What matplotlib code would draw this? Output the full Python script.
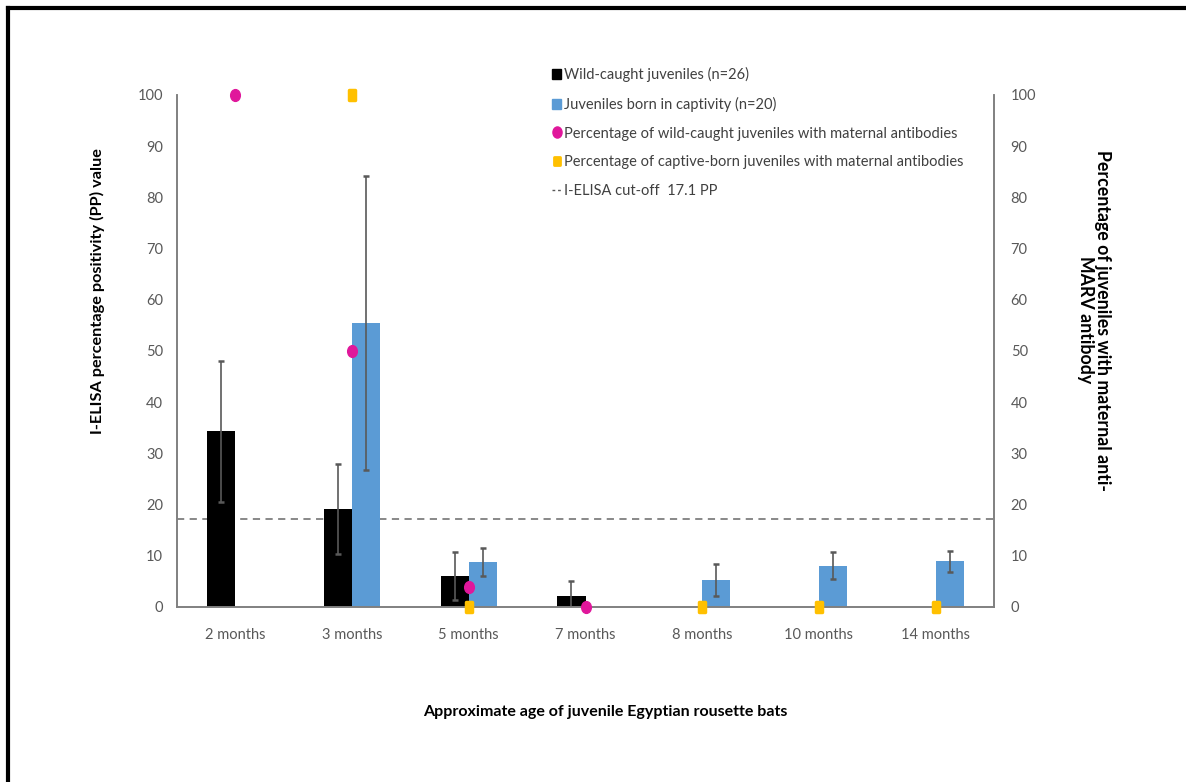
import numpy as np
import matplotlib
matplotlib.use("Agg")
from matplotlib import pyplot as plt
from matplotlib.lines import Line2D
from matplotlib.markers import MarkerStyle
from matplotlib.patches import Patch
from matplotlib.transforms import Affine2D

plt.rcParams['font.family'] = ['Lato', 'DejaVu Sans']

ages = ['2 months', '3 months', '5 months', '7 months', '8 months', '10 months', '14 months']

# mean PP values and error (+/-) per age group; None where no animals
wild_pp = [34.3, 19.1, 6.0, 2.2, None, None, None]
wild_err = [13.8, 8.8, 4.7, 2.8, None, None, None]
captive_pp = [None, 55.5, 8.8, None, 5.3, 8.1, 8.9]
captive_err = [None, 28.7, 2.65, None, 3.1, 2.7, 2.1]

# percentage of juveniles with maternal antibodies (right axis)
wild_pct = [100, 50, 4, 0, None, None, None]
captive_pct = [None, 100, 0, None, 0, 0, 0]

cutoff = 17.1

BLACK = '#000000'
BLUE = '#5B9BD5'
PINK = '#E0179B'
YELLOW = '#FFC000'
GREY = '#595959'

fig = plt.figure(figsize=(11.86, 7.82), dpi=100)
ax = fig.add_axes([177 / 1186, 1 - 607 / 782, (994 - 177) / 1186, (607 - 95) / 782])
ax2 = ax.twinx()

x = np.arange(len(ages))
w = 0.24


def pick(vals, errs):
    idx = [i for i, v in enumerate(vals) if v is not None]
    return x[idx], [vals[i] for i in idx], [errs[i] for i in idx]


wx, wv, we = pick(wild_pp, wild_err)
cx, cv, ce = pick(captive_pp, captive_err)
ax.bar(wx - w / 2, wv, w, color=BLACK, zorder=2)
ax.bar(cx + w / 2, cv, w, color=BLUE, zorder=2)
ax.errorbar(wx - w / 2, wv, yerr=we, fmt='none', ecolor=GREY, elinewidth=1.2,
            capsize=2.5, capthick=1.8, zorder=3)
ax.errorbar(cx + w / 2, cv, yerr=ce, fmt='none', ecolor=GREY, elinewidth=1.2,
            capsize=2.5, capthick=1.8, zorder=3)

ax.axhline(cutoff, color='#7F7F7F', linestyle=(0, (4, 3)), linewidth=1.3, zorder=1)

# slightly tall dots and rounded rectangles
oval = MarkerStyle('o', transform=Affine2D().scale(0.82, 1.0))
rounded_sq = MarkerStyle('s', joinstyle='round', transform=Affine2D().scale(0.7, 1.0))

px = [i for i, v in enumerate(wild_pct) if v is not None]
ax2.plot(x[px], [wild_pct[i] for i in px], linestyle='none', marker=oval,
         markersize=8.5, markerfacecolor=PINK, markeredgecolor=PINK, clip_on=False, zorder=5)
yx = [i for i, v in enumerate(captive_pct) if v is not None]
ax2.plot(x[yx], [captive_pct[i] for i in yx], linestyle='none', marker=rounded_sq,
         markersize=7, markerfacecolor=YELLOW, markeredgecolor=YELLOW,
         markeredgewidth=2.5, clip_on=False, zorder=5)

for a in (ax, ax2):
    a.set_ylim(0, 100)
    a.set_yticks(np.arange(0, 101, 10))
    a.set_xlim(-0.5, len(ages) - 0.5)
    a.spines['top'].set_visible(False)
    for s in ('left', 'right', 'bottom'):
        a.spines[s].set_color('#808080')
        a.spines[s].set_linewidth(1.2)
    a.tick_params(axis='both', length=0, labelsize=10.5, colors=GREY)
ax.set_xticks(x)
ax.set_xticklabels(ages)
ax.tick_params(axis='x', pad=15)
ax.tick_params(axis='y', pad=10)
ax2.tick_params(axis='y', pad=12)

fig.text(605 / 1186, 1 - 712 / 782, 'Approximate age of juvenile Egyptian rousette bats',
         ha='center', va='center', fontsize=11.5, fontweight='bold')
fig.text(97 / 1186, 1 - 291 / 782, 'I-ELISA percentage positivity (PP) value',
         ha='center', va='center', rotation=90, fontsize=11.7, fontweight='bold')
fig.text(1094 / 1186, 1 - 320 / 782, 'Percentage of juveniles with maternal anti-\nMARV antibody',
         ha='center', va='center', rotation=270, fontsize=12.8, fontweight='bold',
         linespacing=1.0)

handles = [
    Patch(color=BLACK),
    Patch(color=BLUE),
    Line2D([], [], linestyle='none', marker=oval, markersize=8, color=PINK),
    Line2D([], [], linestyle='none', marker=rounded_sq, markersize=6, markeredgewidth=2,
           color=YELLOW),
    Line2D([], [], linestyle=(0, (2, 2)), color=GREY, linewidth=1),
]
labels = [
    'Wild-caught juveniles (n=26)',
    'Juveniles born in captivity (n=20)',
    'Percentage of wild-caught juveniles with maternal antibodies',
    'Percentage of captive-born juveniles with maternal antibodies',
    'I-ELISA cut-off  17.1 PP',
]
leg = fig.legend(handles, labels, loc='upper left', bbox_to_anchor=(545 / 1186, 1 - 60 / 782),
                 frameon=False, fontsize=10.5, handlelength=0.6, handleheight=0.7,
                 handletextpad=0.2, labelspacing=1.0, borderpad=0)
for t in leg.get_texts():
    t.set_color('#404040')

# frame edges on the top and left of the figure
fig.add_artist(Line2D([8 / 1186, 1], [1 - 8 / 782, 1 - 8 / 782], color='black', linewidth=3))
fig.add_artist(Line2D([8 / 1186, 8 / 1186], [0, 1 - 8 / 782], color='black', linewidth=3))

fig.savefig('out.png', dpi=100)
